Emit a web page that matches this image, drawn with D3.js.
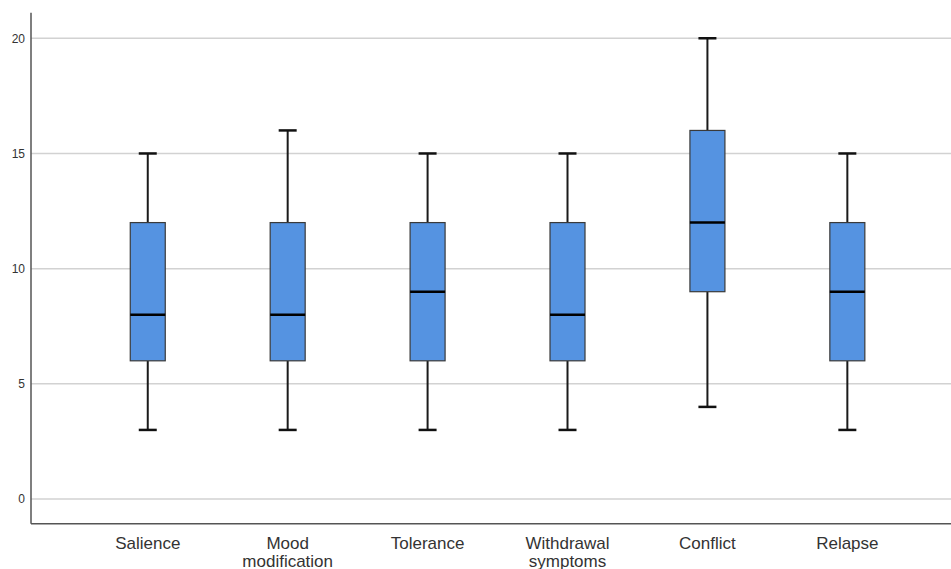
<!DOCTYPE html>
<html>
<head>
<meta charset="utf-8">
<script src="https://cdn.jsdelivr.net/npm/d3@7"></script>
<style>
  html, body { margin: 0; padding: 0; background: #fff; }
  svg { display: block; }
</style>
</head>
<body>
<svg id="chart" width="951" height="569"></svg>
<script>
// ---- data ----
const categories = ["Salience", "Mood modification", "Tolerance", "Withdrawal symptoms", "Conflict", "Relapse"];
const categoryLines = [["Salience"], ["Mood", "modification"], ["Tolerance"], ["Withdrawal", "symptoms"], ["Conflict"], ["Relapse"]];
const minValues    = [3, 3, 3, 3, 4, 3];
const q1Values     = [6, 6, 6, 6, 9, 6];
const medianValues = [8, 8, 9, 8, 12, 9];
const q3Values     = [12, 12, 12, 12, 16, 12];
const maxValues    = [15, 16, 15, 15, 20, 15];
const yTicks = [0, 5, 10, 15, 20];

const rows = categories.map((c, i) => ({
  cat: c, lines: categoryLines[i],
  min: minValues[i], q1: q1Values[i], med: medianValues[i], q3: q3Values[i], max: maxValues[i]
}));

// ---- layout ----
const svg = d3.select("#chart");
const axisX = 31, axisY = 523.7, topY = 12.7, rightX = 951;

const y = d3.scaleLinear().domain([-1.07, 21.11]).range([axisY, topY]);
const x = d3.scaleBand().domain(categories).range([77.8, 917.3]).padding(0);

const boxW = 35, capW = 18;

// gridlines
svg.append("g").selectAll("line").data(yTicks).join("line")
  .attr("x1", axisX).attr("x2", rightX)
  .attr("y1", d => y(d)).attr("y2", d => y(d))
  .attr("stroke", "#d2d2d2").attr("stroke-width", 1.5);

// y axis
const yAxis = svg.append("g").attr("transform", `translate(${axisX},0)`)
  .call(d3.axisLeft(y).tickValues(yTicks).tickSize(0).tickPadding(6));
yAxis.select(".domain").remove();
yAxis.selectAll("text")
  .attr("font-family", "'Liberation Sans', Arial, sans-serif")
  .attr("font-size", 12).attr("fill", "#333");

svg.append("line").attr("x1", axisX).attr("x2", axisX).attr("y1", topY).attr("y2", axisY)
  .attr("stroke", "#555").attr("stroke-width", 1.5);
svg.append("line").attr("x1", axisX).attr("x2", rightX).attr("y1", axisY).attr("y2", axisY)
  .attr("stroke", "#555").attr("stroke-width", 1.5);

// boxes
const g = svg.append("g").selectAll("g").data(rows).join("g")
  .attr("transform", d => `translate(${x(d.cat) + x.bandwidth() / 2},0)`);

// whiskers
g.append("line").attr("x1", 0).attr("x2", 0)
  .attr("y1", d => y(d.max)).attr("y2", d => y(d.q3))
  .attr("stroke", "#1a1a1a").attr("stroke-width", 2);
g.append("line").attr("x1", 0).attr("x2", 0)
  .attr("y1", d => y(d.q1)).attr("y2", d => y(d.min))
  .attr("stroke", "#1a1a1a").attr("stroke-width", 2);
// caps
g.append("line").attr("x1", -capW / 2).attr("x2", capW / 2)
  .attr("y1", d => y(d.max)).attr("y2", d => y(d.max))
  .attr("stroke", "#111").attr("stroke-width", 2.5);
g.append("line").attr("x1", -capW / 2).attr("x2", capW / 2)
  .attr("y1", d => y(d.min)).attr("y2", d => y(d.min))
  .attr("stroke", "#111").attr("stroke-width", 2.5);
// box
g.append("rect").attr("x", -boxW / 2).attr("width", boxW)
  .attr("y", d => y(d.q3)).attr("height", d => y(d.q1) - y(d.q3))
  .attr("fill", "#5593e1").attr("stroke", "#3a3a3a").attr("stroke-width", 1.2);
// median
g.append("line").attr("x1", -boxW / 2).attr("x2", boxW / 2)
  .attr("y1", d => y(d.med)).attr("y2", d => y(d.med))
  .attr("stroke", "#000").attr("stroke-width", 2.5);

// category labels
const lbl = g.append("text")
  .attr("text-anchor", "middle")
  .attr("font-family", "'Liberation Sans', Arial, sans-serif")
  .attr("font-size", 17).attr("fill", "#333")
  .attr("y", 549);
lbl.selectAll("tspan").data(d => d.lines).join("tspan")
  .attr("x", 0).attr("dy", (d, i) => i === 0 ? 0 : 18)
  .text(d => d);
</script>
</body>
</html>
